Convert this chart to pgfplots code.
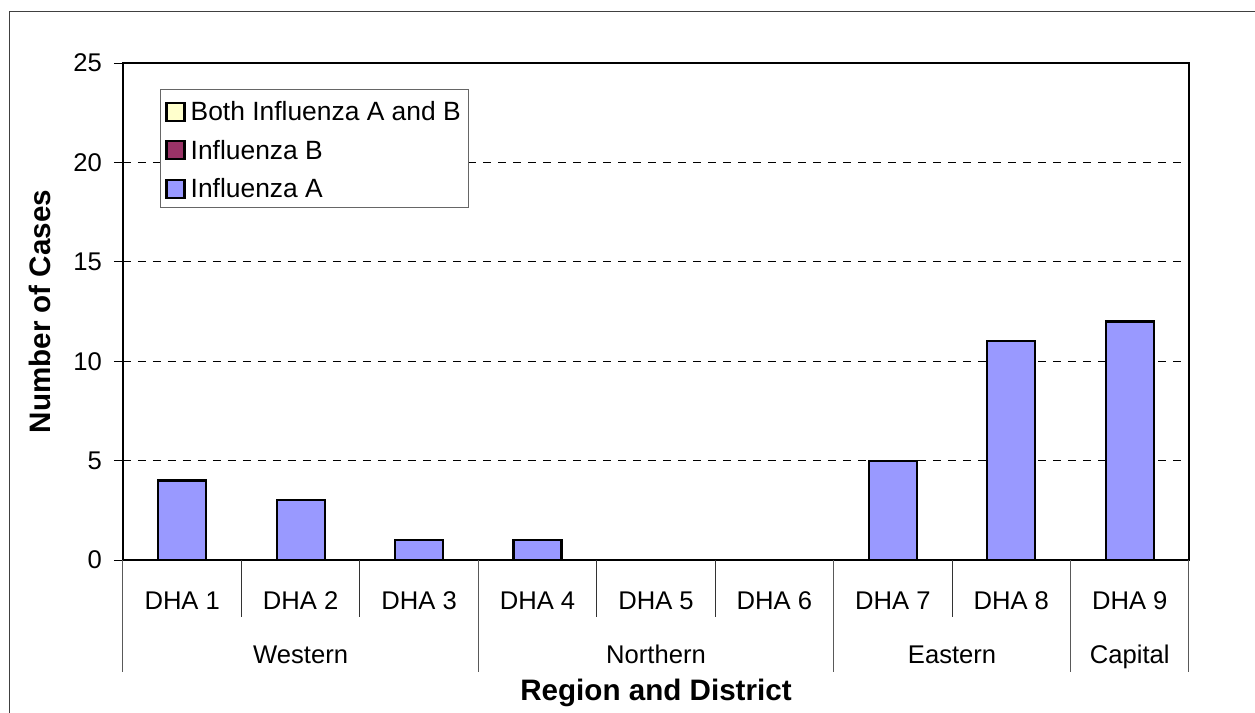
\documentclass[border=0pt]{standalone}
\usepackage{fontspec}
\setmainfont{Liberation Sans}
\usepackage{pgfplots}
\pgfplotsset{compat=1.18}
\definecolor{fluA}{HTML}{9999FF}
\definecolor{fluB}{HTML}{993366}
\definecolor{fluAB}{HTML}{FFFFCC}
\newcommand{\nfont}{\fontsize{12.8}{15}\selectfont}
\newcommand{\lfont}{\fontsize{13.2}{15}\selectfont}
\newcommand{\bfnt}{\fontsize{14.8}{18}\selectfont\bfseries}
\begin{document}
\begin{tikzpicture}
\path[use as bounding box] (0,0) rectangle (627.5pt,356.5pt);
\draw[black!75, line width=0.6pt] (4.6pt,-2pt) -- (4.6pt,350.8pt) -- (632pt,350.8pt);
\begin{axis}[
  at={(61.5pt,76.5pt)}, anchor=south west,
  scale only axis, width=533pt, height=248.5pt,
  ybar stacked, bar width=24pt,
  xmin=-0.5, xmax=8.5, ymin=0, ymax=25,
  xtick={0,...,8},
  xticklabels={DHA 1,DHA 2,DHA 3,DHA 4,DHA 5,DHA 6,DHA 7,DHA 8,DHA 9},
  ytick={0,5,...,25},
  tick align=outside, xtick pos=left, ytick pos=left,
  major tick length=4.5pt,
  xtick style={draw=none},
  ytick style={black, line width=0.5pt},
  ymajorgrids, grid style={black, dash pattern=on 4pt off 3.5pt, line width=0.5pt},
  axis line style={black, line width=1.1pt},
  /pgf/number format/assume math mode=true,
  tick label style={font=\nfont, black},
  xticklabel style={yshift=-8pt},
  yticklabel style={xshift=-2.5pt},
  xlabel={Region and District},
  ylabel={Number of Cases},
  label style={font=\bfnt},
  xlabel style={at={(axis description cs:0.5,-0.2817)}, anchor=base},
  ylabel style={at={(axis description cs:-0.0779,0.5)}, anchor=center},
  clip=false,
  reverse legend,
  legend cell align=left,
  legend image code/.code={\draw[#1, line width=1.1pt] (0pt,-5.5pt) rectangle (9pt,3.5pt);},
  legend style={at={(axis description cs:0.0347,0.948)}, anchor=north west,
    draw=black!60, line width=0.5pt, font=\lfont,
    inner xsep=2.5pt, inner ysep=3pt, row sep=4.75pt, column sep=1pt,
    nodes={inner xsep=1.5pt, inner ysep=0pt, text height=12.7pt, text depth=1.8pt}},
  every axis plot/.append style={draw=black, line width=1.1pt},
]
\addplot[fill=fluA] coordinates {(0,4) (1,3) (2,1) (3,1) (4,0) (5,0) (6,5) (7,11) (8,12)};
\addplot[fill=fluB] coordinates {(0,0) (1,0) (2,0) (3,0) (4,0) (5,0) (6,0) (7,0) (8,0)};
\addplot[fill=fluAB] coordinates {(0,0) (1,0) (2,0) (3,0) (4,0) (5,0) (6,0) (7,0) (8,0)};
\legend{Influenza A,Influenza B,Both Influenza A and B}
\pgfplotsinvokeforeach{0.5,1.5,3.5,4.5,6.5}{
  \draw[black!80, line width=0.5pt] (axis cs:#1,0) -- ++(0pt,-28.5pt);
}
\pgfplotsinvokeforeach{-0.5,2.5,5.5,7.5,8.5}{
  \draw[black!65, line width=0.5pt] (axis cs:#1,0) -- ++(0pt,-56pt);
}
\node[font=\nfont, anchor=base] at ([yshift=-51.5pt]axis cs:1,0) {Western};
\node[font=\nfont, anchor=base] at ([yshift=-51.5pt]axis cs:4,0) {Northern};
\node[font=\nfont, anchor=base] at ([yshift=-51.5pt]axis cs:6.5,0) {Eastern};
\node[font=\nfont, anchor=base] at ([yshift=-51.5pt]axis cs:8,0) {Capital};
\end{axis}
\end{tikzpicture}
\end{document}
